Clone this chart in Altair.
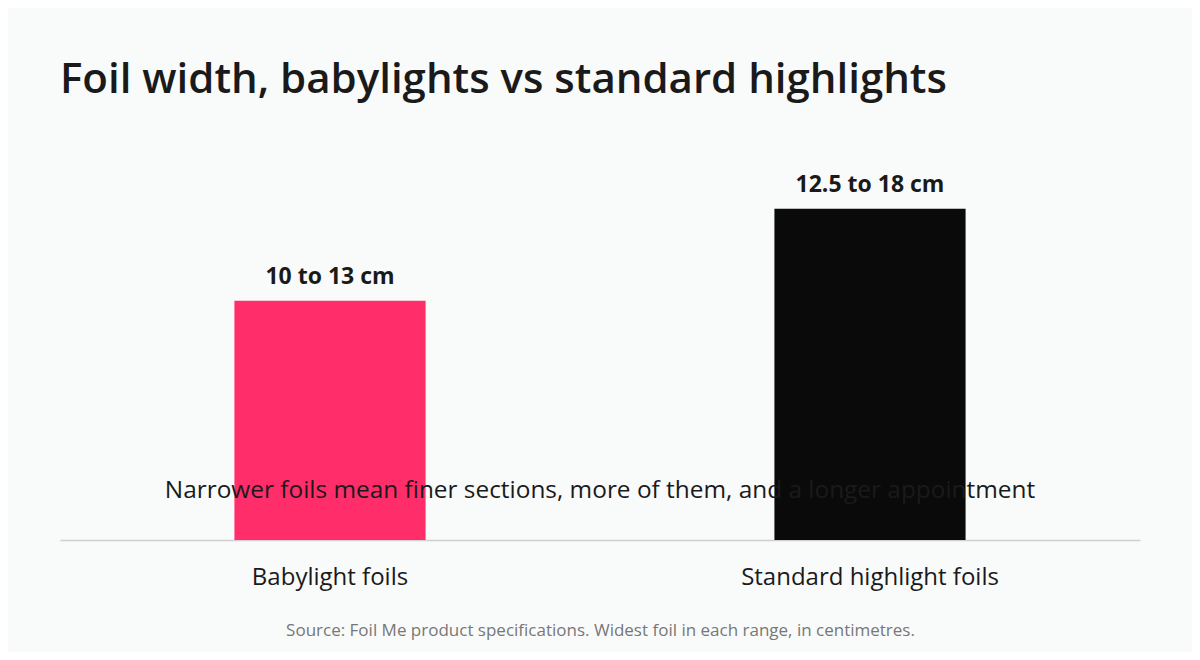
import altair as alt
import pandas as pd

categories = ["Babylight foils", "Standard highlight foils"]
widest_cm = [13, 18]
range_labels = ["10 to 13 cm", "12.5 to 18 cm"]
bar_colors = ["#FF2D6A", "#0A0A0A"]

title_text = "Foil width, babylights vs standard highlights"
subtitle_text = "Narrower foils mean finer sections, more of them, and a longer appointment"
source_text = "Source: Foil Me product specifications. Widest foil in each range, in centimetres."

df = pd.DataFrame({"cat": categories, "val": widest_cm, "lab": range_labels, "col": bar_colors})

FONT = "Open Sans"

x = alt.X("cat:N", sort=categories,
          scale=alt.Scale(paddingInner=0.646, paddingOuter=0.323),
          axis=alt.Axis(title=source_text, labelAngle=0, labelFontSize=24, labelColor="#1a1a1a",
                        labelFont=FONT, labelPadding=25, labelLimit=0, ticks=False,
                        domainColor="#d0d0d0", domainWidth=1.5, titleFontSize=17,
                        titleFontWeight="normal", titleColor="#777777", titleFont=FONT,
                        titlePadding=33))
y = alt.Y("val:Q", scale=alt.Scale(domain=[0, 20]), axis=None)

bars = alt.Chart(df).mark_bar().encode(
    x=x, y=y, color=alt.Color("col:N", scale=None)
)
labels = alt.Chart(df).mark_text(dy=-12, baseline="bottom", fontSize=23, fontWeight="bold",
                                 font=FONT, color="#1a1a1a").encode(
    x=alt.X("cat:N", sort=categories), y="val:Q", text="lab:N"
)
sub = alt.Chart(pd.DataFrame({"t": [subtitle_text]})).mark_text(
    fontSize=24.4, font=FONT, color="#1a1a1a", align="center", baseline="middle"
).encode(x=alt.value(540), y=alt.value(319), text="t:N")

chart = alt.layer(bars, labels, sub).properties(
    width=1080, height=368,
    title=alt.TitleParams(title_text, anchor="start", fontSize=42, fontWeight=600, font=FONT,
                          color="#1a1a1a", offset=70),
    background="#F9FBFA",
    padding={"left": 52, "top": 164, "right": 52, "bottom": 112},
    autosize=alt.AutoSizeParams(type="none"),
).configure_view(stroke=None)

chart.save("out.html", embed_options={"renderer": "svg", "actions": False})
